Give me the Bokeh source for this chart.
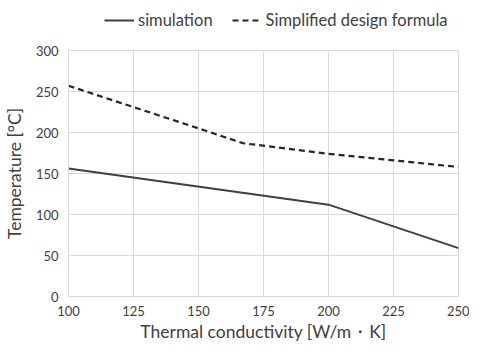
from bokeh.plotting import figure
from bokeh.layouts import column
from bokeh.models import Legend, LegendItem, FixedTicker, Range1d
from bokeh.embed import file_html
from bokeh.resources import INLINE

conductivity_sim = [100, 200, 250]
temp_sim = [156, 112, 59]
conductivity_formula = [100, 125, 150, 167, 200, 225, 250]
temp_formula = [257, 231, 205, 187, 174, 166, 158]
x_ticks = [100, 125, 150, 175, 200, 225, 250]
y_ticks = [0, 50, 100, 150, 200, 250, 300]
series_names = ["simulation", "Simplified design formula"]

FONT = "Lato"
SIM_STYLE = dict(line_color="#404040", line_width=2)
FORM_STYLE = dict(line_color="#262626", line_width=2.2, line_dash="6 4")

# legend strip (same series, ranges chosen so the lines stay out of view)
lg = figure(frame_width=390, height=37, output_backend="svg", toolbar_location=None,
            x_range=Range1d(0, 1), y_range=Range1d(0, 1),
            min_border_left=67, min_border_right=11, min_border_top=0, min_border_bottom=0)
lg.axis.visible = False
lg.grid.visible = False
lg.outline_line_color = None
l1 = lg.line(conductivity_sim, temp_sim, **SIM_STYLE)
l2 = lg.line(conductivity_formula, temp_formula, **FORM_STYLE)
legend = Legend(items=[LegendItem(label=series_names[0], renderers=[l1]),
                       LegendItem(label=series_names[1], renderers=[l2])],
                orientation="horizontal", location=(36, 7),
                label_text_font=FONT, label_text_font_size="16.5px", label_text_color="#404040",
                glyph_width=30, glyph_height=20, spacing=19, label_standoff=4,
                padding=0, margin=0, label_height=20,
                border_line_color=None, background_fill_alpha=0)
lg.add_layout(legend, "center")

# main chart
p = figure(frame_width=390, frame_height=246, output_backend="svg", toolbar_location=None,
           x_range=Range1d(100, 250), y_range=Range1d(0, 300),
           min_border_left=67, min_border_right=11, min_border_top=13, min_border_bottom=0)

p.line(conductivity_sim, temp_sim, **SIM_STYLE)
p.line(conductivity_formula, temp_formula, **FORM_STYLE)

p.xaxis.ticker = FixedTicker(ticks=x_ticks)
p.yaxis.ticker = FixedTicker(ticks=y_ticks)
for ax in (p.xaxis[0], p.yaxis[0]):
    ax.major_tick_line_color = None
    ax.minor_tick_line_color = None
    ax.major_tick_out = 0
    ax.major_tick_in = 0
    ax.minor_tick_out = 0
    ax.minor_tick_in = 0
    ax.axis_line_color = "#d9d9d9"
    ax.major_label_text_font = FONT
    ax.major_label_text_font_size = "13px"
    ax.major_label_text_color = "#404040"
    ax.axis_label_text_font = FONT
    ax.axis_label_text_font_size = "17.5px"
    ax.axis_label_text_font_style = "normal"
    ax.axis_label_text_color = "#404040"
p.xaxis.axis_label = "Thermal conductivity [W/m・K]"
p.yaxis.axis_label = "Temperature [°C]"
p.xaxis.major_label_standoff = 9
p.yaxis.major_label_standoff = 10
p.xaxis.axis_label_standoff = 2
p.yaxis.axis_label_standoff = 8

p.xgrid.grid_line_color = "#d9d9d9"
p.ygrid.grid_line_color = "#d9d9d9"
p.outline_line_color = "#d9d9d9"
p.background_fill_color = "white"

layout = column(lg, p, spacing=0)
open("out.html", "w").write(file_html(layout, INLINE))
